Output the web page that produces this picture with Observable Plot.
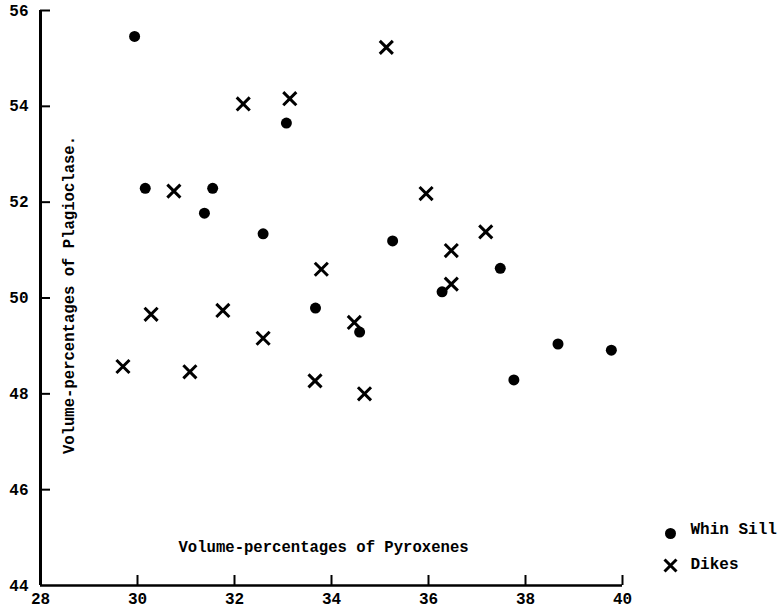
<!DOCTYPE html>
<html>
<head>
<meta charset="utf-8">
<script src="https://cdn.jsdelivr.net/npm/d3@7"></script>
<script src="https://cdn.jsdelivr.net/npm/@observablehq/plot@0.6"></script>
<style>
  html, body { margin: 0; padding: 0; background: #fff; }
  #chart svg { display: block; }
</style>
</head>
<body>
<div id="chart"></div>
<script>
const xTicks = [28, 30, 32, 34, 36, 38, 40];
const yTicks = [44, 46, 48, 50, 52, 54, 56];

const whinSillX = [29.94, 30.16, 31.55, 31.38, 33.07, 32.59, 33.67, 34.58, 35.26, 36.28, 37.48, 37.76, 38.67, 39.77];
const whinSillY = [55.46, 52.29, 52.29, 51.77, 53.65, 51.34, 49.79, 49.29, 51.19, 50.13, 50.62, 48.29, 49.04, 48.91];

const dikesX = [29.70, 30.28, 30.75, 31.08, 31.76, 32.18, 33.14, 32.59, 33.66, 33.79, 34.47, 34.68, 35.13, 35.95, 36.47, 36.47, 37.18];
const dikesY = [48.57, 49.66, 52.23, 48.46, 49.74, 54.05, 54.16, 49.16, 48.27, 50.60, 49.49, 48.00, 55.23, 52.18, 50.29, 50.99, 51.38];

const xLabel = "Volume-percentages of Pyroxenes";
const yLabel = "Volume-percentages of Plagioclase.";
const legendLabels = ["Whin Sill", "Dikes"];

const whinSill = whinSillX.map((x, i) => ({x, y: whinSillY[i]}));
const dikes = dikesX.map((x, i) => ({x, y: dikesY[i]}));

const font = "Liberation Mono, DejaVu Sans Mono, monospace";

const chart = Plot.plot({
  width: 782,
  height: 610,
  marginLeft: 40,
  marginRight: 160,
  marginTop: 10,
  marginBottom: 25,
  style: {fontFamily: font, fontSize: "15px", fontWeight: "bold", color: "#000", background: "#fff", overflow: "visible"},
  x: {domain: [28, 40], label: null},
  y: {domain: [44, 56], label: null},
  marks: [
    // tick labels
    Plot.axisX(xTicks, {tickSize: 0, tickPadding: 7, fontSize: 16, fontWeight: "bold"}),
    Plot.axisY(yTicks, {tickSize: 0, tickPadding: 12, fontSize: 16, fontWeight: "bold"}),
    // inward tick marks
    Plot.axisX(xTicks.slice(1), {tickSize: -10, tickFormat: () => "", strokeWidth: 2}),
    Plot.axisY(yTicks.slice(1), {tickSize: -10, tickFormat: () => "", strokeWidth: 2}),
    // axis lines
    Plot.ruleX([28], {strokeWidth: 3}),
    Plot.ruleY([44], {strokeWidth: 2.5}),
    // axis titles inside plot
    Plot.text([xLabel], {frameAnchor: "bottom-left", dx: 138, dy: -34, textAnchor: "start", fontSize: 15.6, fontWeight: "bold"}),
    Plot.text([yLabel], {frameAnchor: "left", dx: 28, dy: -3, rotate: -90, textAnchor: "middle", fontSize: 15.6, fontWeight: "bold"}),
    // data
    Plot.dot(whinSill, {x: "x", y: "y", r: 5.5, fill: "#000", stroke: "none"}),
    Plot.dot(dikes, {x: "x", y: "y", r: 6, symbol: "times", stroke: "#000", strokeWidth: 3}),
    // legend
    Plot.dot([legendLabels[0]], {frameAnchor: "bottom-right", dx: 48, dy: -52, r: 5.5, fill: "#000", stroke: "none"}),
    Plot.dot([legendLabels[1]], {frameAnchor: "bottom-right", dx: 48, dy: -20, r: 5.5, symbol: "times", stroke: "#000", strokeWidth: 3}),
    Plot.text([legendLabels[0]], {frameAnchor: "bottom-right", dx: 68, dy: -52, textAnchor: "start", fontSize: 16, fontWeight: "bold"}),
    Plot.text([legendLabels[1]], {frameAnchor: "bottom-right", dx: 68, dy: -17, textAnchor: "start", fontSize: 16, fontWeight: "bold"})
  ]
});

document.getElementById("chart").appendChild(chart);
</script>
</body>
</html>
